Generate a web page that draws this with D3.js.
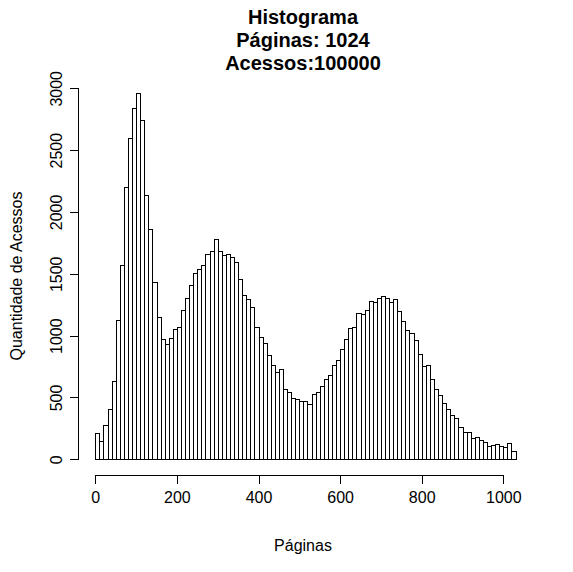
<!DOCTYPE html>
<html>
<head>
<meta charset="utf-8">
<script src="https://cdn.jsdelivr.net/npm/d3@7"></script>
<style>
  body { margin: 0; background: #fff; }
  text { font-family: "Liberation Sans", Arial, sans-serif; fill: #000; }
</style>
</head>
<body>
<div id="chart"></div>
<script>
// histogram data: bins of width 10 starting at 0
const binWidth = 10;
const counts = [
  210, 150, 280, 410, 630, 1125, 1570, 2200, 2595, 2840,
  2960, 2745, 2135, 1860, 1435, 1148, 973, 930, 978, 1054,
  1073, 1207, 1302, 1407, 1509, 1536, 1568, 1660, 1682, 1779,
  1682, 1655, 1660, 1633, 1593, 1455, 1326, 1294, 1229, 1067,
  986, 938, 841, 760, 703, 728, 566, 542, 493, 485,
  474, 474, 447, 526, 542, 593, 647, 682, 760, 803,
  892, 973, 1059, 1067, 1180, 1172, 1207, 1280, 1269, 1302,
  1323, 1302, 1269, 1294, 1199, 1118, 1046, 1019, 965, 849,
  755, 760, 647, 566, 520, 453, 404, 356, 332, 264,
  224, 224, 170, 178, 156, 143, 108, 116, 121, 110,
  97, 129, 67
];
const binStarts = counts.map((c, i) => i * binWidth);
const xTicks = [0, 200, 400, 600, 800, 1000];
const yTicks = [0, 500, 1000, 1500, 2000, 2500, 3000];
const titleLines = ['Histograma', 'Páginas: 1024', 'Acessos:100000'];
const xLabel = 'Páginas';
const yLabel = 'Quantidade de Acessos';

const width = 573;
const height = 572;

const x = d3.scaleLinear().domain([0, 1000]).range([95.3, 503.3]);
const y = d3.scaleLinear().domain([0, 3000]).range([459.3, 88.3]);

// plot region edges (R style 4% extension)
const plotLeft = 77.5;
const plotBottom = 474.5;
const plotCenterX = 303;
const plotCenterY = 276;

const svg = d3.select('#chart')
    .append('svg')
    .attr('width', width)
    .attr('height', height);

const px = v => Math.round(v) + 0.5;

// bars
svg.append('g')
    .selectAll('rect')
    .data(binStarts)
    .enter()
    .append('rect')
    .attr('x', d => px(x(d)))
    .attr('width', d => Math.round(x(d + binWidth)) - Math.round(x(d)))
    .attr('y', (d, i) => px(y(counts[i])))
    .attr('height', (d, i) => Math.round(y(0)) - Math.round(y(counts[i])))
    .attr('fill', '#fff')
    .attr('stroke', '#000')
    .attr('stroke-width', 1)
    .attr('shape-rendering', 'crispEdges');

// x axis
const xAxis = svg.append('g')
    .attr('transform', `translate(0, ${plotBottom})`)
    .call(d3.axisBottom(x).tickValues(xTicks).tickSize(9).tickPadding(8).tickFormat(d3.format('d')));
xAxis.selectAll('line,path').attr('stroke', '#000').attr('shape-rendering', 'crispEdges');
xAxis.select('.domain').attr('d', `M${px(x(0))},9V0.5H${px(x(1000))}V9`);
xAxis.selectAll('text').attr('font-size', 16).attr('font-family', '"Liberation Sans", Arial, sans-serif');

// y axis
const yAxis = svg.append('g')
    .attr('transform', `translate(${plotLeft}, 0)`)
    .call(d3.axisLeft(y).tickValues(yTicks).tickSize(8).tickFormat(d3.format('d')));
yAxis.selectAll('line,path').attr('stroke', '#000').attr('shape-rendering', 'crispEdges');
yAxis.select('.domain').attr('d', `M-8,${px(y(0))}H0.5V${px(y(3000))}H-8`);
yAxis.selectAll('text')
    .attr('font-size', 16)
    .attr('font-family', '"Liberation Sans", Arial, sans-serif')
    .attr('x', 0).attr('y', 0).attr('dy', null)
    .attr('text-anchor', 'middle')
    .attr('transform', 'translate(-16, 0) rotate(-90)');

// titles
svg.append('g')
    .selectAll('text')
    .data(titleLines)
    .enter()
    .append('text')
    .attr('x', plotCenterX)
    .attr('y', (d, i) => 24 + i * 23)
    .attr('text-anchor', 'middle')
    .attr('font-size', 20)
    .attr('font-weight', 'bold')
    .text(d => d);

svg.append('text')
    .attr('x', plotCenterX)
    .attr('y', 551)
    .attr('text-anchor', 'middle')
    .attr('font-size', 16)
    .text(xLabel);

svg.append('text')
    .attr('transform', `translate(22, ${plotCenterY}) rotate(-90)`)
    .attr('text-anchor', 'middle')
    .attr('font-size', 16)
    .text(yLabel);
</script>
</body>
</html>
